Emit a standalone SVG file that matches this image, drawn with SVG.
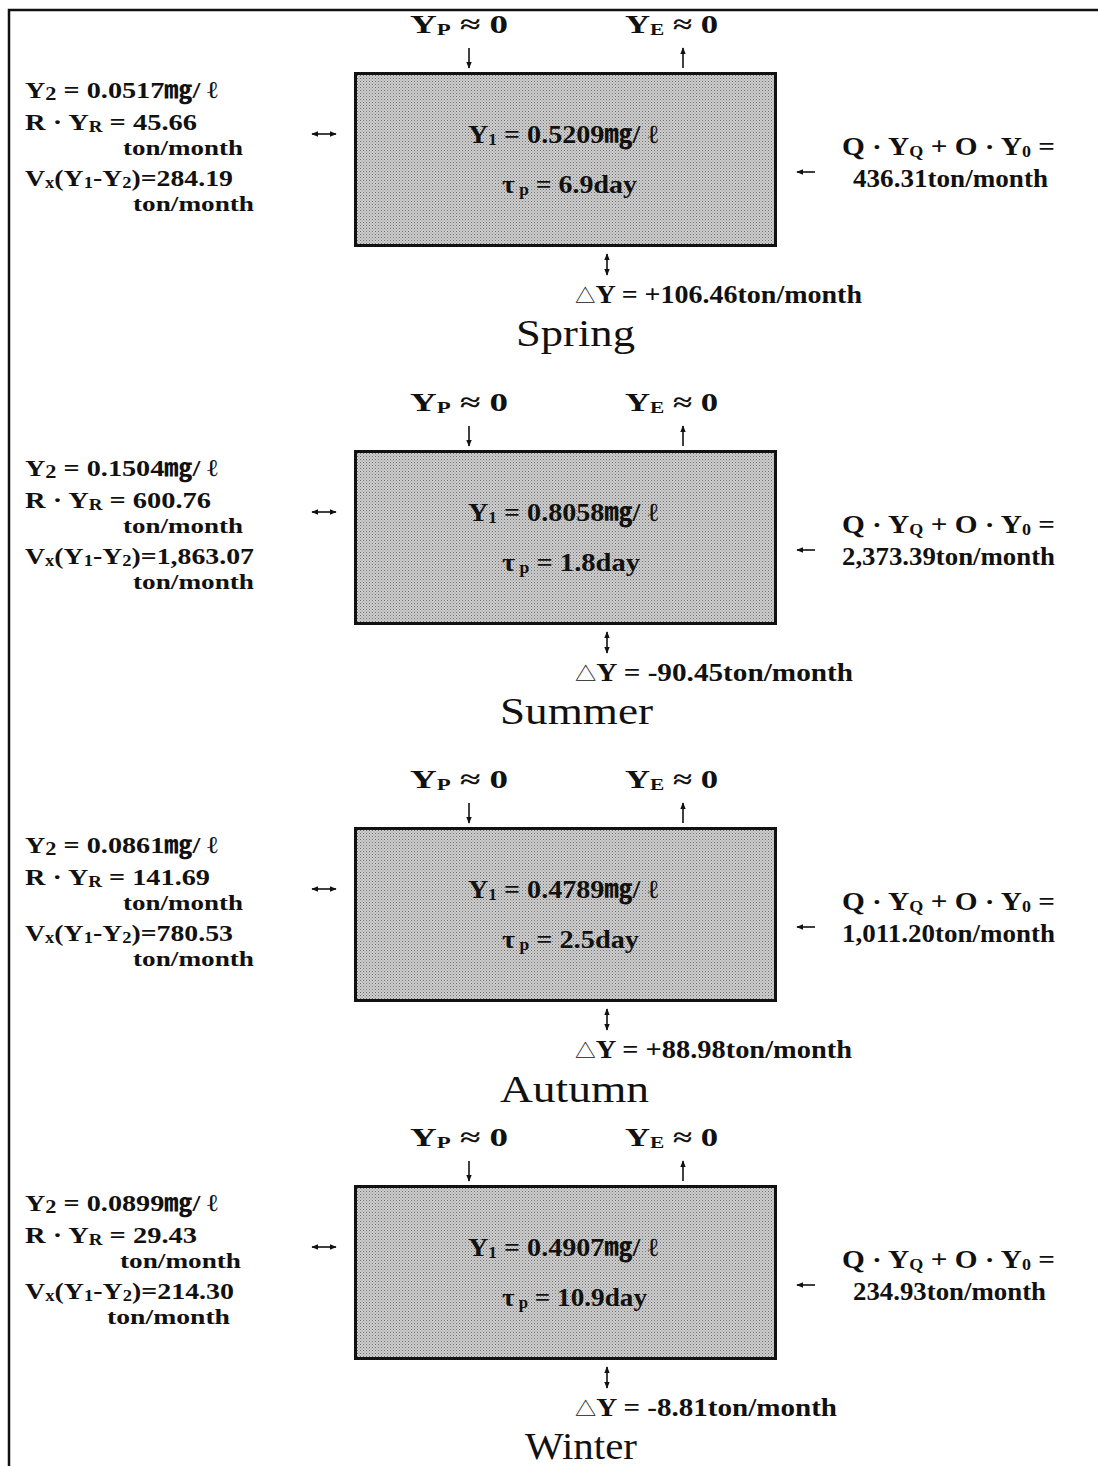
<svg xmlns="http://www.w3.org/2000/svg" width="1098" height="1466" viewBox="0 0 1098 1466">
<style>
.t{font-family:"Liberation Serif","Noto Sans CJK JP",serif;font-weight:bold;font-size:26px;fill:#111}
.tl{font-size:24px}
.tm{font-size:22px}
.s{font-size:16px}
.s2{font-size:19px}
.tri{font-size:19px;font-weight:normal}
.ttl{font-family:"Liberation Serif",serif;font-weight:normal;font-size:38px;fill:#111}
.box{fill:url(#dots);stroke:#111;stroke-width:3}
.c{stroke:#111;stroke-width:1.6;fill:none}
</style>
<defs>
<pattern id="dots" width="3" height="3" patternUnits="userSpaceOnUse">
<rect width="3" height="3" fill="#cdcdcd"/>
<rect width="1" height="1" fill="#707070"/>
<rect x="1.5" y="1.5" width="1" height="1" fill="#939393"/>
</pattern>
<marker id="ah" viewBox="0 0 10 10" refX="9" refY="5" markerWidth="7" markerHeight="7" orient="auto-start-reverse" markerUnits="userSpaceOnUse">
<path d="M0,1 L10,5 L0,9 Z" fill="#111"/>
</marker>
</defs>
<rect width="1098" height="1466" fill="#fff"/>
<path d="M9,1466 V10 H1098" fill="none" stroke="#111" stroke-width="2.5"/>

<g id="spring">
<rect class="box" x="355.5" y="73.5" width="420" height="172"/>
<text class="t" x="410" y="33" textLength="98" lengthAdjust="spacingAndGlyphs">Y<tspan class="s" dy="2">P</tspan><tspan dy="-2">  ≈  0</tspan></text>
<text class="t" x="625" y="33" textLength="93" lengthAdjust="spacingAndGlyphs">Y<tspan class="s" dy="2">E</tspan><tspan dy="-2">  ≈  0</tspan></text>
<text class="t tl" x="25" y="98" textLength="193" lengthAdjust="spacingAndGlyphs">Y<tspan class="s2" dy="2">2</tspan><tspan dy="-2"> = 0.0517㎎/ ℓ</tspan></text>
<text class="t tl" x="25" y="130" textLength="172" lengthAdjust="spacingAndGlyphs">R · Y<tspan class="s" dy="2">R</tspan><tspan dy="-2"> = 45.66</tspan></text>
<text class="t tm" x="123" y="155" textLength="120" lengthAdjust="spacingAndGlyphs">ton/month</text>
<text class="t tl" x="25" y="186" textLength="208" lengthAdjust="spacingAndGlyphs">V<tspan class="s" dy="2">x</tspan><tspan dy="-2">(Y</tspan><tspan class="s" dy="2">1</tspan><tspan dy="-2">-Y</tspan><tspan class="s" dy="2">2</tspan><tspan dy="-2">)=284.19</tspan></text>
<text class="t tm" x="133" y="211" textLength="121" lengthAdjust="spacingAndGlyphs">ton/month</text>
<text class="t" x="468" y="143" textLength="190" lengthAdjust="spacingAndGlyphs">Y<tspan class="s" dy="2">1</tspan><tspan dy="-2"> = 0.5209㎎/ ℓ</tspan></text>
<text class="t" x="502" y="193" textLength="135" lengthAdjust="spacingAndGlyphs">τ<tspan class="s" dy="2"> p</tspan><tspan dy="-2"> = 6.9day</tspan></text>
<text class="t" x="842" y="155" textLength="213" lengthAdjust="spacingAndGlyphs">Q · Y<tspan class="s" dy="2">Q</tspan><tspan dy="-2"> + O · Y</tspan><tspan class="s" dy="2">0</tspan><tspan dy="-2"> =</tspan></text>
<text class="t" x="853" y="187" textLength="195" lengthAdjust="spacingAndGlyphs">436.31ton/month</text>
<text class="t" x="575" y="303" textLength="287" lengthAdjust="spacingAndGlyphs"><tspan class="tri">△</tspan>Y = +106.46ton/month</text>
<text class="ttl" x="516" y="346" textLength="119" lengthAdjust="spacingAndGlyphs">Spring</text>
</g>

<g id="summer" transform="translate(0,378)">
<rect class="box" x="355.5" y="73.5" width="420" height="172"/>
<text class="t" x="410" y="33" textLength="98" lengthAdjust="spacingAndGlyphs">Y<tspan class="s" dy="2">P</tspan><tspan dy="-2">  ≈  0</tspan></text>
<text class="t" x="625" y="33" textLength="93" lengthAdjust="spacingAndGlyphs">Y<tspan class="s" dy="2">E</tspan><tspan dy="-2">  ≈  0</tspan></text>
<text class="t tl" x="25" y="98" textLength="193" lengthAdjust="spacingAndGlyphs">Y<tspan class="s2" dy="2">2</tspan><tspan dy="-2"> = 0.1504㎎/ ℓ</tspan></text>
<text class="t tl" x="25" y="130" textLength="186" lengthAdjust="spacingAndGlyphs">R · Y<tspan class="s" dy="2">R</tspan><tspan dy="-2"> = 600.76</tspan></text>
<text class="t tm" x="123" y="155" textLength="120" lengthAdjust="spacingAndGlyphs">ton/month</text>
<text class="t tl" x="25" y="186" textLength="229" lengthAdjust="spacingAndGlyphs">V<tspan class="s" dy="2">x</tspan><tspan dy="-2">(Y</tspan><tspan class="s" dy="2">1</tspan><tspan dy="-2">-Y</tspan><tspan class="s" dy="2">2</tspan><tspan dy="-2">)=1,863.07</tspan></text>
<text class="t tm" x="133" y="211" textLength="121" lengthAdjust="spacingAndGlyphs">ton/month</text>
<text class="t" x="468" y="143" textLength="190" lengthAdjust="spacingAndGlyphs">Y<tspan class="s" dy="2">1</tspan><tspan dy="-2"> = 0.8058㎎/ ℓ</tspan></text>
<text class="t" x="502" y="193" textLength="138" lengthAdjust="spacingAndGlyphs">τ<tspan class="s" dy="2"> p</tspan><tspan dy="-2"> = 1.8day</tspan></text>
<text class="t" x="842" y="155" textLength="213" lengthAdjust="spacingAndGlyphs">Q · Y<tspan class="s" dy="2">Q</tspan><tspan dy="-2"> + O · Y</tspan><tspan class="s" dy="2">0</tspan><tspan dy="-2"> =</tspan></text>
<text class="t" x="842" y="187" textLength="213" lengthAdjust="spacingAndGlyphs">2,373.39ton/month</text>
<text class="t" x="575" y="303" textLength="278" lengthAdjust="spacingAndGlyphs"><tspan class="tri">△</tspan>Y = -90.45ton/month</text>
<text class="ttl" x="500" y="346" textLength="153" lengthAdjust="spacingAndGlyphs">Summer</text>
</g>

<g id="autumn" transform="translate(0,755)">
<rect class="box" x="355.5" y="73.5" width="420" height="172"/>
<text class="t" x="410" y="33" textLength="98" lengthAdjust="spacingAndGlyphs">Y<tspan class="s" dy="2">P</tspan><tspan dy="-2">  ≈  0</tspan></text>
<text class="t" x="625" y="33" textLength="93" lengthAdjust="spacingAndGlyphs">Y<tspan class="s" dy="2">E</tspan><tspan dy="-2">  ≈  0</tspan></text>
<text class="t tl" x="25" y="98" textLength="193" lengthAdjust="spacingAndGlyphs">Y<tspan class="s2" dy="2">2</tspan><tspan dy="-2"> = 0.0861㎎/ ℓ</tspan></text>
<text class="t tl" x="25" y="130" textLength="185" lengthAdjust="spacingAndGlyphs">R · Y<tspan class="s" dy="2">R</tspan><tspan dy="-2"> = 141.69</tspan></text>
<text class="t tm" x="123" y="155" textLength="120" lengthAdjust="spacingAndGlyphs">ton/month</text>
<text class="t tl" x="25" y="186" textLength="208" lengthAdjust="spacingAndGlyphs">V<tspan class="s" dy="2">x</tspan><tspan dy="-2">(Y</tspan><tspan class="s" dy="2">1</tspan><tspan dy="-2">-Y</tspan><tspan class="s" dy="2">2</tspan><tspan dy="-2">)=780.53</tspan></text>
<text class="t tm" x="133" y="211" textLength="121" lengthAdjust="spacingAndGlyphs">ton/month</text>
<text class="t" x="468" y="143" textLength="190" lengthAdjust="spacingAndGlyphs">Y<tspan class="s" dy="2">1</tspan><tspan dy="-2"> = 0.4789㎎/ ℓ</tspan></text>
<text class="t" x="502" y="193" textLength="137" lengthAdjust="spacingAndGlyphs">τ<tspan class="s" dy="2"> p</tspan><tspan dy="-2"> = 2.5day</tspan></text>
<text class="t" x="842" y="155" textLength="213" lengthAdjust="spacingAndGlyphs">Q · Y<tspan class="s" dy="2">Q</tspan><tspan dy="-2"> + O · Y</tspan><tspan class="s" dy="2">0</tspan><tspan dy="-2"> =</tspan></text>
<text class="t" x="842" y="187" textLength="213" lengthAdjust="spacingAndGlyphs">1,011.20ton/month</text>
<text class="t" x="575" y="303" textLength="277" lengthAdjust="spacingAndGlyphs"><tspan class="tri">△</tspan>Y = +88.98ton/month</text>
<text class="ttl" x="500" y="347" textLength="149" lengthAdjust="spacingAndGlyphs">Autumn</text>
</g>

<g id="winter" transform="translate(0,1113)">
<rect class="box" x="355.5" y="73.5" width="420" height="172"/>
<text class="t" x="410" y="33" textLength="98" lengthAdjust="spacingAndGlyphs">Y<tspan class="s" dy="2">P</tspan><tspan dy="-2">  ≈  0</tspan></text>
<text class="t" x="625" y="33" textLength="93" lengthAdjust="spacingAndGlyphs">Y<tspan class="s" dy="2">E</tspan><tspan dy="-2">  ≈  0</tspan></text>
<text class="t tl" x="25" y="98" textLength="193" lengthAdjust="spacingAndGlyphs">Y<tspan class="s2" dy="2">2</tspan><tspan dy="-2"> = 0.0899㎎/ ℓ</tspan></text>
<text class="t tl" x="25" y="130" textLength="172" lengthAdjust="spacingAndGlyphs">R · Y<tspan class="s" dy="2">R</tspan><tspan dy="-2"> = 29.43</tspan></text>
<text class="t tm" x="120" y="155" textLength="121" lengthAdjust="spacingAndGlyphs">ton/month</text>
<text class="t tl" x="25" y="186" textLength="209" lengthAdjust="spacingAndGlyphs">V<tspan class="s" dy="2">x</tspan><tspan dy="-2">(Y</tspan><tspan class="s" dy="2">1</tspan><tspan dy="-2">-Y</tspan><tspan class="s" dy="2">2</tspan><tspan dy="-2">)=214.30</tspan></text>
<text class="t tm" x="107" y="211" textLength="123" lengthAdjust="spacingAndGlyphs">ton/month</text>
<text class="t" x="468" y="143" textLength="190" lengthAdjust="spacingAndGlyphs">Y<tspan class="s" dy="2">1</tspan><tspan dy="-2"> = 0.4907㎎/ ℓ</tspan></text>
<text class="t" x="502" y="193" textLength="145" lengthAdjust="spacingAndGlyphs">τ<tspan class="s" dy="2"> p</tspan><tspan dy="-2"> = 10.9day</tspan></text>
<text class="t" x="842" y="155" textLength="213" lengthAdjust="spacingAndGlyphs">Q · Y<tspan class="s" dy="2">Q</tspan><tspan dy="-2"> + O · Y</tspan><tspan class="s" dy="2">0</tspan><tspan dy="-2"> =</tspan></text>
<text class="t" x="853" y="187" textLength="193" lengthAdjust="spacingAndGlyphs">234.93ton/month</text>
<text class="t" x="575" y="303" textLength="262" lengthAdjust="spacingAndGlyphs"><tspan class="tri">△</tspan>Y = -8.81ton/month</text>
<text class="ttl" x="525" y="346" textLength="112" lengthAdjust="spacingAndGlyphs">Winter</text>
</g>

<g id="connectors">
<g id="c-spring">
<line class="c" x1="469" y1="48" x2="469" y2="68" marker-end="url(#ah)"/>
<line class="c" x1="683" y1="68" x2="683" y2="48" marker-end="url(#ah)"/>
<line class="c" x1="312" y1="134" x2="336" y2="134" marker-start="url(#ah)" marker-end="url(#ah)"/>
<line class="c" x1="815" y1="172" x2="797" y2="172" marker-end="url(#ah)"/>
<line class="c" x1="607" y1="254" x2="607" y2="275" marker-start="url(#ah)" marker-end="url(#ah)"/>
</g>
<g id="c-summer" transform="translate(0,378)">
<line class="c" x1="469" y1="48" x2="469" y2="68" marker-end="url(#ah)"/>
<line class="c" x1="683" y1="68" x2="683" y2="48" marker-end="url(#ah)"/>
<line class="c" x1="312" y1="134" x2="336" y2="134" marker-start="url(#ah)" marker-end="url(#ah)"/>
<line class="c" x1="815" y1="172" x2="797" y2="172" marker-end="url(#ah)"/>
<line class="c" x1="607" y1="254" x2="607" y2="275" marker-start="url(#ah)" marker-end="url(#ah)"/>
</g>
<g id="c-autumn" transform="translate(0,755)">
<line class="c" x1="469" y1="48" x2="469" y2="68" marker-end="url(#ah)"/>
<line class="c" x1="683" y1="68" x2="683" y2="48" marker-end="url(#ah)"/>
<line class="c" x1="312" y1="134" x2="336" y2="134" marker-start="url(#ah)" marker-end="url(#ah)"/>
<line class="c" x1="815" y1="172" x2="797" y2="172" marker-end="url(#ah)"/>
<line class="c" x1="607" y1="254" x2="607" y2="275" marker-start="url(#ah)" marker-end="url(#ah)"/>
</g>
<g id="c-winter" transform="translate(0,1113)">
<line class="c" x1="469" y1="48" x2="469" y2="68" marker-end="url(#ah)"/>
<line class="c" x1="683" y1="68" x2="683" y2="48" marker-end="url(#ah)"/>
<line class="c" x1="312" y1="134" x2="336" y2="134" marker-start="url(#ah)" marker-end="url(#ah)"/>
<line class="c" x1="815" y1="172" x2="797" y2="172" marker-end="url(#ah)"/>
<line class="c" x1="607" y1="254" x2="607" y2="275" marker-start="url(#ah)" marker-end="url(#ah)"/>
</g>
</g>
</svg>
